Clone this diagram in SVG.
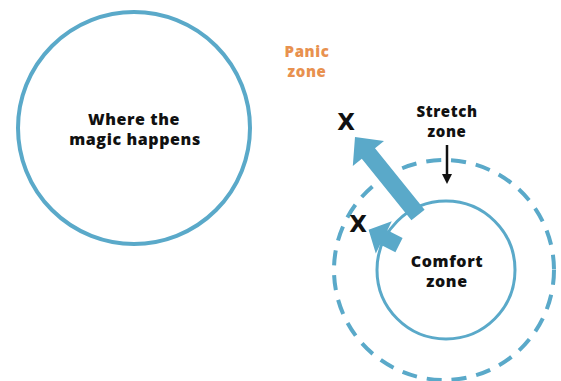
<svg xmlns="http://www.w3.org/2000/svg" width="561" height="381" viewBox="0 0 561 381">
  <style>
    .ring { fill: none; stroke: #5aa9c9; }
    .lbl { font-family: "Open Sans", "Liberation Sans", sans-serif; font-weight: 800; fill: #111; text-anchor: middle; letter-spacing: 0.6px; }
    .panic { fill: #e8914f; }
    .mark { font-family: "DejaVu Sans", "Liberation Sans", sans-serif; font-weight: 700; font-size: 23px; fill: #111; text-anchor: middle; }
    .arrow { fill: #5aa9c9; }
  </style>
  <rect width="561" height="381" fill="#ffffff"/>

  <g id="magic">
    <circle class="ring" cx="134" cy="128" r="116" stroke-width="4"/>
    <text class="lbl" x="134" y="125" font-size="16">Where the</text>
    <text class="lbl" x="135" y="145" font-size="16">magic happens</text>
  </g>

  <g id="stretch">
    <circle class="ring" cx="444" cy="270" r="110" stroke-width="4" stroke-dasharray="15 10"/>
    <text class="lbl" x="447" y="117" font-size="15">Stretch</text>
    <text class="lbl" x="447" y="137" font-size="15">zone</text>
  </g>

  <g id="comfort">
    <circle class="ring" cx="446" cy="270" r="69" stroke-width="3"/>
    <text class="lbl" x="447" y="267" font-size="16">Comfort</text>
    <text class="lbl" x="447" y="287" font-size="16">zone</text>
  </g>

  <g id="panic">
    <text class="lbl panic" x="307" y="57" font-size="15">Panic</text>
    <text class="lbl panic" x="307" y="77" font-size="15">zone</text>
  </g>

  <g id="marks">
    <text class="mark" x="346" y="130">X</text>
    <text class="mark" x="358" y="232">X</text>
  </g>

  <g id="connectors">
    <!-- long push out toward the panic zone -->
    <polygon class="arrow" points="424.6,209.7 375,148.2 384,140.9 355,137 352.8,166.1 361.8,158.8 411.4,220.3"/>
    <!-- short push out of the comfort zone -->
    <polygon class="arrow" points="402.6,237.9 387.4,230.2 391.8,221.3 368.6,229.8 375.8,253.5 380.2,244.6 395.4,252.2"/>
    <!-- pointer to the stretch ring -->
    <line x1="447" y1="145" x2="447" y2="176" stroke="#111" stroke-width="2.5"/>
    <polygon points="442,174 452,174 447,184" fill="#111"/>
  </g>
</svg>
